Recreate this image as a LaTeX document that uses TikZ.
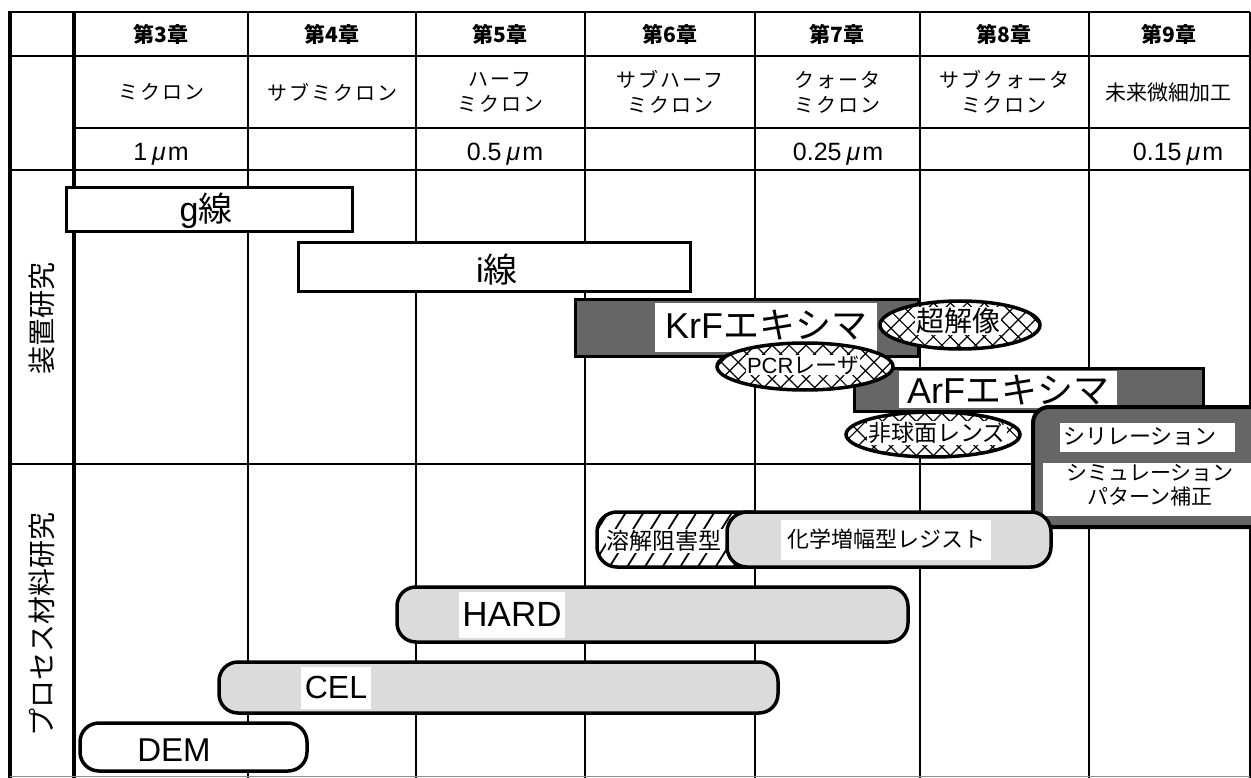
\documentclass[tikz,border=0pt]{standalone}
\usepackage{fontspec}
\setmainfont{Liberation Sans}
\newfontfamily\jp{Noto Sans CJK JP}
\newfontfamily\jpls[LetterSpace=10]{Noto Sans CJK JP}
\usetikzlibrary{patterns.meta}
\newcommand\mymu{\kern5pt{\itshape μ}\kern2pt m}
\newcommand\fs[1]{\fontsize{#1}{#1}\selectfont}
\begin{document}
\begin{tikzpicture}[x=1pt,y=-1pt,
  bodyline/.style={line width=1.4pt},
  hdrv/.style={line width=2pt},
  hl/.style={line width=2.6pt},
  bar/.style={draw,line width=3pt,fill=white},
  darkbox/.style={draw,line width=3pt,fill=black!60},
  lightfill/.style={fill=black!14},
  pill/.style={draw,line width=3.5pt,rounded corners=19pt},
  ring/.style={line width=3.5pt},
  xhatch/.style={pattern={Hatch[angle=45,distance=12pt,line width=1.2pt]}},
  slash/.style={pattern={Lines[angle=58,distance=15pt,line width=1.8pt]}},
  chap/.style={font=\jp\bfseries\fs{21}},
  sub/.style={font=\jpls\fontsize{20}{25}\selectfont,align=center},
  size/.style={font=\fs{25},anchor=base},
  big/.style={font=\fs{34},anchor=base},
  huge/.style={font=\fs{36},anchor=base},
  wbg/.style={fill=white,inner sep=1pt},
  lab/.style={font=\jp\fs{28},rotate=90}]
\useasboundingbox (0,0) rectangle (1251,778);
\fill[white] (0,0) rectangle (1251,778);

% ---- grid ----
\foreach \x in {248,416,585,755,920,1089}{\draw[bodyline] (\x,170) -- (\x,778);}
\foreach \x in {248,416,585,755,920,1089}{\draw[hdrv] (\x,12) -- (\x,170);}
\draw[hl] (10,12) -- (1250,12);
\draw[hl] (10,56) -- (1250,56);
\draw[hl] (74,128) -- (1250,128);
\draw[hl] (10,170) -- (1250,170);
\draw[hl] (10,464) -- (1250,464);
\draw[line width=4pt] (10,10.7) -- (10,778);
\draw[line width=4pt] (74,12) -- (74,778);
\draw[line width=2pt] (1249.5,12) -- (1249.5,778);
\draw[line width=1pt,black!45] (10,776.5) -- (1250,776.5);

% ---- header ----
\foreach \n/\x in {3/161,4/332,5/500,6/670,7/837,8/1004,9/1169}{\node[chap] (ch\n) at (\x,34) {第\n{}章};}
\node[sub] (s3) at (161,92) {ミクロン};
\node[sub] (s4) at (332,92) {サブミクロン};
\node[sub] (s5) at (500,92) {ハーフ\\ミクロン};
\node[sub] (s6) at (670,92) {サブハーフ\\ミクロン};
\node[sub] (s7) at (837,92) {クォータ\\ミクロン};
\node[sub] (s8) at (1004,92) {サブクォータ\\ミクロン};
\node[font=\jp\fs{21}] (s9) at (1168,93) {未来微細加工};
\node[size] (u3) at (161,161) {1\mymu};
\node[size] (u5) at (505,161) {0.5\mymu};
\node[size] (u7) at (838,161) {0.25\mymu};
\node[size] (u9) at (1178,161) {0.15\mymu};

% ---- row labels ----
\node[lab] (lab1) at (42,318) {装置研究};
\node[lab] (lab2) at (42,624) {プロセス材料研究};

% ---- equipment bars ----
\draw[bar] (66,188) rectangle (352,232);
\node[big] (gl) at (206,222) {g{\jp 線}};
\draw[bar] (298,243) rectangle (690,292);
\node[big] (il) at (497,283) {i{\jp 線}};

\filldraw[darkbox] (575,300) rectangle (918,356);
\fill[white] (655,303) rectangle (877,352);
\node[huge] (krf) at (766,338) {KrF{\jp エキシマ}};

\filldraw[darkbox] (854,368) rectangle (1203,411);
\fill[white] (899,371) rectangle (1117,408);
\node[huge] (arf) at (1008,403) {ArF{\jp エキシマ}};

% super resolution
\fill[white] (960,325) ellipse [x radius=80pt,y radius=24pt];
\fill[xhatch] (960,325) ellipse [x radius=80pt,y radius=24pt];
\node[wbg,font=\jp\fs{28}] (chokai) at (958,321) {超解像};
\draw[ring] (960,325) ellipse [x radius=80pt,y radius=24pt];

% PCR laser
\fill[white] (805,366.5) ellipse [x radius=88pt,y radius=23.5pt];
\fill[xhatch] (805,366.5) ellipse [x radius=88pt,y radius=23.5pt];
\node[wbg,font=\fs{22}] (pcr) at (803,365) {PCR{\jp レーザ}};
\draw[ring] (805,366.5) ellipse [x radius=88pt,y radius=23.5pt];

% aspheric lens
\fill[white] (933,434.5) ellipse [x radius=87pt,y radius=22.5pt];
\fill[xhatch] (933,434.5) ellipse [x radius=87pt,y radius=22.5pt];
\node[wbg,font=\jp\fs{23}] (lens) at (937,433) {非球面レンズ};
\draw[ring] (933,434.5) ellipse [x radius=87pt,y radius=22.5pt];

% silylation / simulation box
\begin{scope}
\clip (0,0) rectangle (1251,778);
\filldraw[darkbox,line width=4pt,rounded corners=16pt] (1033,407) rectangle (1275,527);
\fill[white] (1060,423) rectangle (1235,452);
\fill[white] (1043,463) rectangle (1262,516);
\end{scope}
\node[font=\jp\fs{22}] (sil) at (1140,437) {シリレーション};
\node[font=\jp\fs{21},align=center] (sim) at (1150,485) {シミュレーション\\[3pt]パターン補正};

% ---- process materials ----
\fill[white,rounded corners=20pt] (597,512) rectangle (770,567);
\fill[slash,rounded corners=20pt] (597,512) rectangle (770,567);
\node[wbg,font=\jp\fs{23},minimum height=24pt] (yokai) at (664,541) {溶解阻害型};
\draw[line width=3.5pt,rounded corners=20pt] (597,512) rectangle (770,567);

\filldraw[pill,lightfill,rounded corners=20pt] (727,512) rectangle (1051,567);
\node[wbg,font=\jp\fs{22},minimum height=40pt,inner xsep=6pt] (kagaku) at (886,539.5) {化学増幅型レジスト};

\filldraw[pill,lightfill] (397,587) rectangle (908,642);
\node[wbg,font=\fs{35},minimum height=46pt,inner xsep=3pt] (hard) at (512,614.5) {HARD};

\filldraw[pill,lightfill] (219,662) rectangle (778,713);
\node[wbg,font=\fs{32},minimum height=42pt,inner xsep=4pt] (cel) at (336,687.5) {CEL};

\draw[pill,fill=white] (80,723) rectangle (307,771);
\node[font=\fs{33}] (dem) at (174,750) {DEM};
\end{tikzpicture}
\end{document}
